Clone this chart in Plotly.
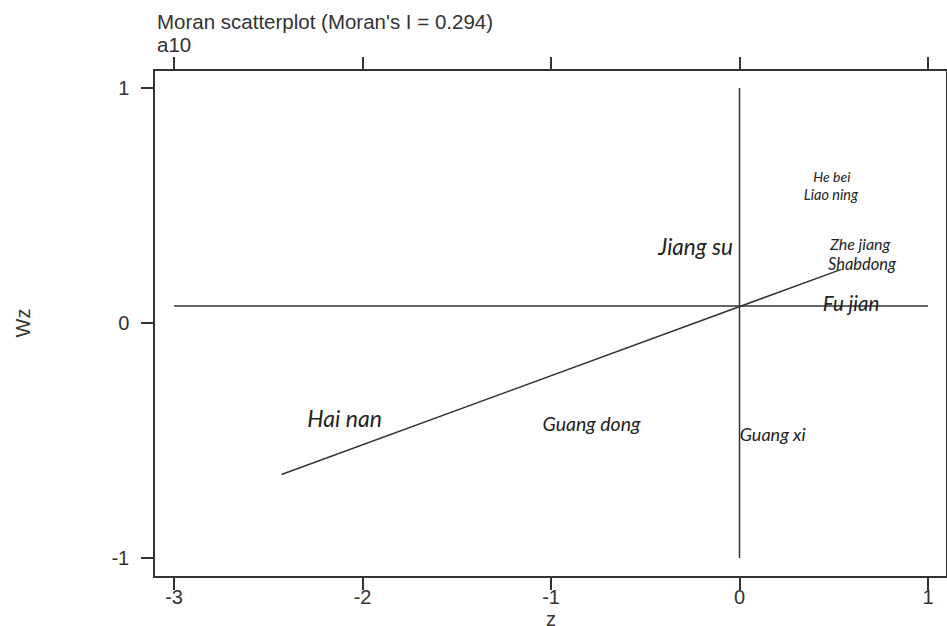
import plotly.graph_objects as go

# ---- data ----
provinces = ["He bei", "Liao ning", "Jiang su", "Zhe jiang", "Shabdong",
             "Fu jian", "Hai nan", "Guang dong", "Guang xi"]
z_vals = [0.490, 0.485, -0.233, 0.640, 0.650, 0.592, -2.095, -0.785, 0.176]
wz_vals = [0.613, 0.540, 0.315, 0.328, 0.243, 0.072, -0.417, -0.438, -0.485]
label_sizes = [14, 14.5, 22.5, 16, 16.5, 20.5, 23, 19.5, 18]

fit_z = [-2.43, 0.54]          # regression line (slope = Moran's I)
fit_wz = [-0.645, 0.228]
hline_z = [-3.0, 1.0]           # mean of Wz
hline_wz = [0.072, 0.072]
vline_z = [0.0, 0.0]            # mean of z
vline_wz = [-1.0, 1.0]

x_ticks = [-3, -2, -1, 0, 1]
y_ticks = [-1, 0, 1]

title_line1 = "Moran scatterplot (Moran's I = 0.294)"
title_line2 = "a10"
x_title = "z"
y_title = "Wz"

INK = "#333333"

fig = go.Figure()
fig.add_trace(go.Scatter(x=hline_z, y=hline_wz, mode="lines",
                         line=dict(color=INK, width=1.5), hoverinfo="skip"))
fig.add_trace(go.Scatter(x=vline_z, y=vline_wz, mode="lines",
                         line=dict(color=INK, width=1.5), hoverinfo="skip"))
fig.add_trace(go.Scatter(x=fit_z, y=fit_wz, mode="lines",
                         line=dict(color=INK, width=1.5), hoverinfo="skip"))
fig.add_trace(go.Scatter(x=z_vals, y=wz_vals, mode="text", text=provinces,
                         textposition="middle center",
                         textfont=dict(family="Lato", size=label_sizes,
                                       color="#222222", style="italic")))

PH = 576 - 71  # plot height in px

fig.update_layout(
    width=947, height=626,
    margin=dict(l=155, r=1, t=71, b=50),
    plot_bgcolor="white", paper_bgcolor="white",
    showlegend=False,
    font=dict(family="Liberation Sans", color=INK),
    xaxis=dict(range=[-3.101, 1.0955], tickvals=x_ticks,
               ticktext=[str(v) for v in x_ticks], automargin=False,
               showgrid=False, zeroline=False,
               showline=True, mirror="ticks", linecolor=INK, linewidth=1.5,
               ticks="outside", ticklen=12, tickwidth=1.5, tickcolor=INK,
               tickfont=dict(size=20, color=INK), ticklabelstandoff=-10),
    yaxis=dict(range=[-1.077, 1.072], tickvals=y_ticks,
               ticktext=[str(v) for v in y_ticks], automargin=False,
               showgrid=False, zeroline=False,
               showline=True, mirror=True, linecolor=INK, linewidth=1.5,
               ticks="outside", ticklen=12, tickwidth=1.5, tickcolor=INK,
               tickfont=dict(size=20, color=INK), ticklabelstandoff=8),
    annotations=[
        dict(text=title_line1, xref="paper", yref="paper", x=0,
             y=1 + (71 - 22) / PH, xanchor="left", yanchor="middle",
             showarrow=False, font=dict(size=20.5, color=INK)),
        dict(text=title_line2, xref="paper", yref="paper", x=0,
             y=1 + (71 - 45) / PH, xanchor="left", yanchor="middle",
             showarrow=False, font=dict(size=20.5, color=INK)),
        dict(text=x_title, xref="paper", yref="paper", x=0.5,
             y=-(619 - 576) / PH, xanchor="center", yanchor="middle",
             showarrow=False, font=dict(size=20, color=INK)),
        dict(text=y_title, xref="paper", yref="paper", x=-(155 - 22) / 791,
             y=0.5, xanchor="center", yanchor="middle", textangle=-90,
             showarrow=False, font=dict(size=20, color=INK)),
    ],
)

fig.write_html(
    "out.html",
    config={"displayModeBar": False},
    post_script="document.body.style.margin='0';"
                "document.body.style.overflow='hidden';",
)
